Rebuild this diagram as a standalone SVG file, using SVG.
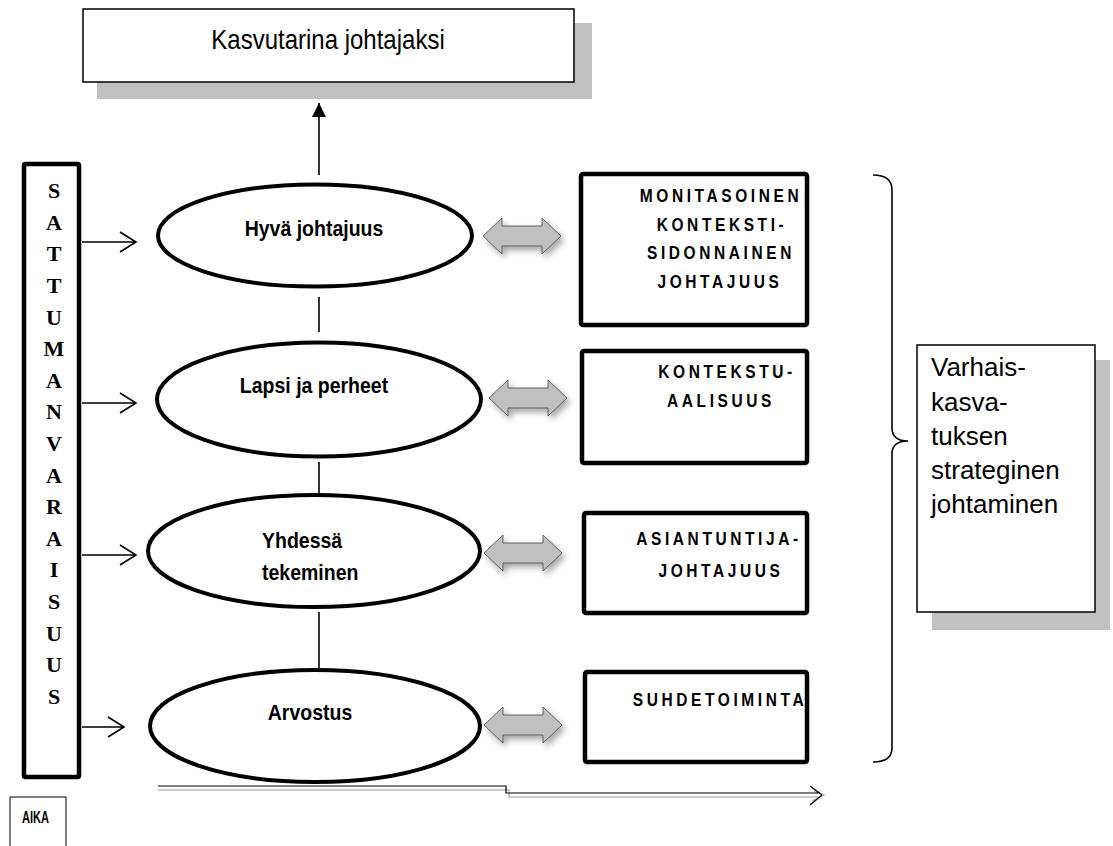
<svg xmlns="http://www.w3.org/2000/svg" width="1113" height="846" viewBox="0 0 1113 846">
  <style>
    .sans { font-family: "Liberation Sans", Arial, sans-serif; fill: #000; }
    .oval { fill: #fff; stroke: #000; stroke-width: 4; }
    .topic { font-family: "Liberation Sans", Arial, sans-serif; font-weight: bold; font-size: 19.5px; }
    .mid { text-anchor: middle; }
    .theme { fill: #fff; stroke: #000; stroke-width: 4.5; }
    .caps { font-family: "Liberation Sans", Arial, sans-serif; font-weight: bold; font-size: 15.5px; letter-spacing: 3.6px; text-anchor: middle; }
    .serif { font-family: "Liberation Serif", "Times New Roman", serif; font-weight: bold; font-size: 22px; text-anchor: middle; }
    .link { stroke: #000; stroke-width: 1.6; fill: none; }
    .shade { fill: #c0c0c0; }
  </style>
  <defs>
    <filter id="soft" x="-30%" y="-50%" width="160%" height="200%">
      <feGaussianBlur in="SourceAlpha" stdDeviation="3"/>
      <feOffset dx="3" dy="4" result="b"/>
      <feFlood flood-color="#000" flood-opacity="0.35"/>
      <feComposite in2="b" operator="in"/>
      <feMerge><feMergeNode/><feMergeNode in="SourceGraphic"/></feMerge>
    </filter>
    <path id="dbl" d="M0,0 L19,-18 L19,-10 L59,-10 L59,-18 L78,0 L59,18 L59,10 L19,10 L19,18 Z" fill="#c0c0c0" stroke="#444" stroke-width="0.8"/>
    <marker id="tri" markerWidth="14" markerHeight="16" refX="14" refY="7" orient="auto" markerUnits="userSpaceOnUse">
      <path d="M0,0 L14,7 L0,14 Z" fill="#000"/>
    </marker>
  </defs>

  <!-- goal box -->
  <g id="goal">
    <rect x="97" y="23" width="495" height="76" class="shade"/>
    <rect x="83" y="9" width="491" height="73" fill="#fff" stroke="#000" stroke-width="1.5"/>
    <text transform="translate(328,49) scale(1,1.15)" class="sans" font-size="24" text-anchor="middle">Kasvutarina johtajaksi</text>
  </g>

  <!-- chance column -->
  <g id="chance">
    <rect x="24" y="164" width="55" height="613" fill="#fff" stroke="#000" stroke-width="4.5" rx="1.5"/>
    <g class="serif">
      <text x="54" y="198">S</text>
      <text x="54" y="230">A</text>
      <text x="54" y="261">T</text>
      <text x="54" y="293">T</text>
      <text x="54" y="325">U</text>
      <text x="54" y="356">M</text>
      <text x="54" y="388">A</text>
      <text x="54" y="419">N</text>
      <text x="54" y="451">V</text>
      <text x="54" y="483">A</text>
      <text x="54" y="514">R</text>
      <text x="54" y="546">A</text>
      <text x="54" y="577">I</text>
      <text x="54" y="609">S</text>
      <text x="54" y="641">U</text>
      <text x="54" y="672">U</text>
      <text x="54" y="704">S</text>
    </g>
  </g>

  <!-- ovals -->
  <g id="hyva">
    <ellipse cx="315" cy="235.5" rx="157" ry="51" class="oval"/>
    <text transform="translate(314,236) scale(1,1.15)" class="topic mid">Hyvä johtajuus</text>
  </g>
  <g id="lapsi">
    <ellipse cx="319" cy="399.5" rx="162" ry="57" class="oval"/>
    <text transform="translate(314,393) scale(1,1.15)" class="topic mid">Lapsi ja perheet</text>
  </g>
  <g id="yhdessa">
    <ellipse cx="314" cy="551" rx="166" ry="56" class="oval"/>
    <text transform="translate(262,548) scale(1,1.15)" class="topic">Yhdessä</text>
    <text transform="translate(262,580) scale(1,1.15)" class="topic">tekeminen</text>
  </g>
  <g id="arvostus">
    <ellipse cx="315" cy="726" rx="165" ry="56" class="oval"/>
    <text transform="translate(310,720) scale(1,1.15)" class="topic mid">Arvostus</text>
  </g>

  <!-- theme boxes -->
  <g id="monitasoinen">
    <rect x="581" y="174" width="226" height="151" rx="2" class="theme"/>
    <text transform="translate(721,202) scale(1,1.2)" class="caps">MONITASOINEN</text>
    <text transform="translate(722,231) scale(1,1.2)" class="caps">KONTEKSTI-</text>
    <text transform="translate(721,259) scale(1,1.2)" class="caps">SIDONNAINEN</text>
    <text transform="translate(720,288) scale(1,1.2)" class="caps">JOHTAJUUS</text>
  </g>
  <g id="kontekstuaalisuus">
    <rect x="582" y="351" width="225" height="112" rx="2" class="theme"/>
    <text transform="translate(727,378) scale(1,1.2)" class="caps">KONTEKSTU-</text>
    <text transform="translate(721,407) scale(1,1.2)" class="caps">AALISUUS</text>
  </g>
  <g id="asiantuntija">
    <rect x="584" y="513" width="223" height="100" rx="2" class="theme"/>
    <text transform="translate(719,545) scale(1,1.2)" class="caps">ASIANTUNTIJA-</text>
    <text transform="translate(721,577) scale(1,1.2)" class="caps">JOHTAJUUS</text>
  </g>
  <g id="suhdetoiminta">
    <rect x="585" y="672" width="222" height="90" rx="2" class="theme"/>
    <text transform="translate(720,706) scale(1,1.2)" class="caps">SUHDETOIMINTA</text>
  </g>

  <!-- strategy box -->
  <g id="strategia">
    <rect x="932" y="360" width="178" height="270" class="shade"/>
    <rect x="917" y="345" width="178" height="267" fill="#fff" stroke="#000" stroke-width="1.5"/>
    <g class="sans" font-size="26">
      <text x="931" y="376">Varhais-</text>
      <text x="931" y="411">kasva-</text>
      <text x="931" y="445">tuksen</text>
      <text x="931" y="479">strateginen</text>
      <text x="931" y="513">johtaminen</text>
    </g>
  </g>

  <!-- time label -->
  <g id="aika">
    <rect x="10" y="797" width="56" height="60" fill="#fff" stroke="#000" stroke-width="1"/>
    <text transform="translate(22,823) scale(1,1.2)" class="sans" font-size="14" font-weight="bold" textLength="27" lengthAdjust="spacingAndGlyphs">AIKA</text>
  </g>

  <!-- connectors -->
  <g id="connectors">
    <line x1="319" y1="175" x2="319" y2="103" class="link" marker-end="url(#tri)"/>
    <line x1="319" y1="297" x2="319" y2="332" class="link"/>
    <line x1="319" y1="462" x2="319" y2="493" class="link"/>
    <line x1="319" y1="612" x2="319" y2="668" class="link"/>

    <path d="M82,242 H136 M120,232 L136,242 L120,252" class="link"/>
    <path d="M82,403 H136 M120,393 L136,403 L120,413" class="link"/>
    <path d="M82,555 H136 M120,545 L136,555 L120,565" class="link"/>
    <path d="M82,727 H124 M108,717 L124,727 L108,737" class="link"/>

    <g filter="url(#soft)">
      <use href="#dbl" x="483" y="236"/>
      <use href="#dbl" x="489" y="398"/>
      <use href="#dbl" x="484" y="553"/>
      <use href="#dbl" x="484" y="725"/>
    </g>

    <!-- brace -->
    <path d="M873,175 Q892,175 892,190 V428 Q892,441 908,441 Q892,441 892,454 V748 Q892,762 873,762" class="link" stroke-width="1.5"/>

    <!-- time arrow -->
    <path d="M158,790 H509 V797 H818 M812,801 L824,795 L814,791" fill="none" stroke="#bbb" stroke-width="1.6"/>
    <path d="M158,786 H506 V793 H818 M810,786 L822,795" fill="none" stroke="#000" stroke-width="1.2"/>
    <path d="M822,795 L810,805" fill="none" stroke="#000" stroke-width="1.2"/>
  </g>
</svg>
